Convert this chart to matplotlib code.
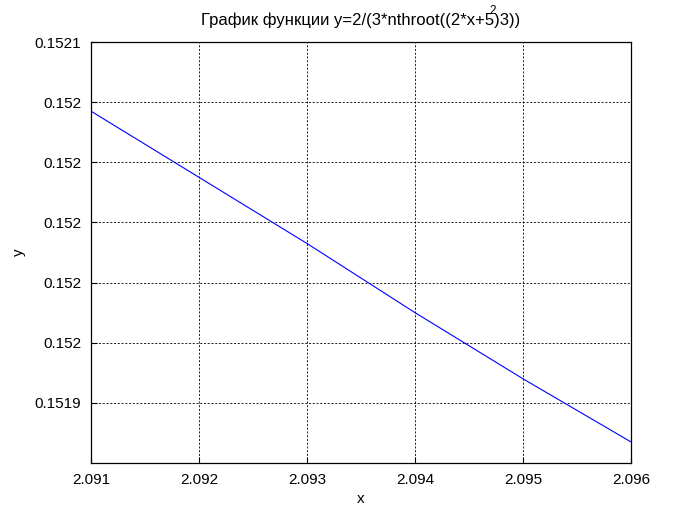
import numpy as np
import matplotlib
matplotlib.use("Agg")
import matplotlib.pyplot as plt
from matplotlib.ticker import FormatStrFormatter

# values
x = [2.091, 2.092, 2.093, 2.094, 2.095, 2.096]
y = [0.152037, 0.152015, 0.151993, 0.151970, 0.151948, 0.151927]
xticks = [2.091, 2.092, 2.093, 2.094, 2.095, 2.096]
yticks = [0.15194, 0.15196, 0.15198, 0.15200, 0.15202, 0.15204, 0.15206]

plt.rcParams['font.family'] = ['Liberation Sans', 'DejaVu Sans']

fig = plt.figure(figsize=(6.97, 5.22), dpi=100)
ax = fig.add_axes([91/697, 1-463/522, 540/697, 421/522])

ax.plot(x, y, color='#0000ff', linewidth=0.8)
ax.set_xlim(2.091, 2.096)
ax.set_ylim(0.15192, 0.15206)
ax.set_xticks(xticks)
ax.set_yticks(yticks)
ax.xaxis.set_major_formatter(FormatStrFormatter('%g'))
ax.yaxis.set_major_formatter(FormatStrFormatter('%.4g'))
ax.tick_params(direction='in', length=4, labelsize=11, pad=7, width=0.8)
ax.grid(True, color='black', linestyle=(0, (2.5, 2)), linewidth=0.6)
for s in ax.spines.values():
    s.set_linewidth(0.9)

ax.set_title("График функции y=2/(3*nthroot((2*x+5)3))", fontsize=12, pad=12)
fig.text(493/697, 1-11/522, "2", fontsize=8.5, ha='center', va='center')
ax.set_xlabel("x", fontsize=11, labelpad=4)
ax.set_ylabel("y", fontsize=11, labelpad=6)

fig.savefig("out.png", dpi=100)
